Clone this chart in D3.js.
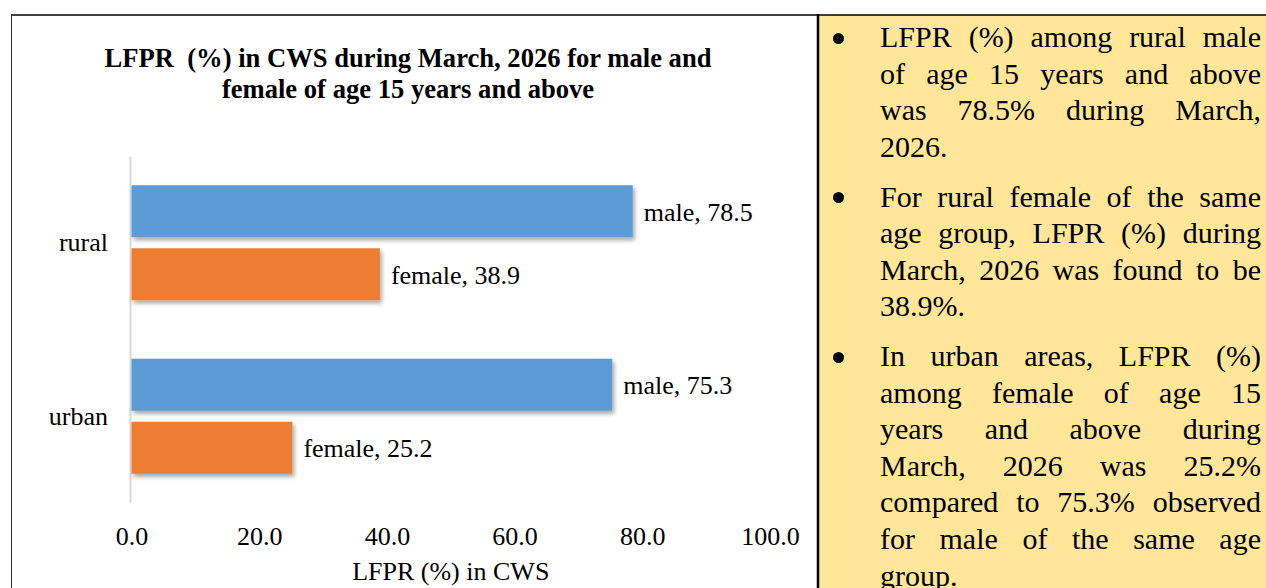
<!DOCTYPE html>
<html>
<head>
<meta charset="utf-8">
<script src="https://cdn.jsdelivr.net/npm/d3@7"></script>
<style>
  body { margin: 0; background: #fff; }
  #wrap { position: relative; width: 1266px; height: 588px; overflow: hidden; }
  svg { position: absolute; left: 0; top: 0; }
  #notes { position: absolute; left: 880px; top: 19.3px; width: 381px;
           font-family: "Times New Roman", "Liberation Serif", serif; font-size: 30px; color: #000; }
  .para { position: relative; margin-bottom: 13px; }
  .line { height: 36.6px; line-height: 36.6px; text-align: justify; text-align-last: justify; }
  .line.last { text-align-last: left; }
  .dot { position: absolute; left: -47.2px; top: 13.5px; width: 11px; height: 11px;
         border-radius: 50%; background: #000; }
</style>
</head>
<body>
<div id="wrap"></div>
<script>
// data
var areas = ["rural", "urban"];
var sexes = ["male", "female"];
var maleValues = [78.5, 75.3];
var femaleValues = [38.9, 25.2];
var xTicks = [0, 20, 40, 60, 80, 100];
var titleLines = ["LFPR\u00a0 (%) in CWS during March, 2026 for male and",
                  "female of age 15 years and above"];
var xTitle = "LFPR (%) in CWS";
var notes = [
  ["LFPR (%) among rural male", "of age 15 years and above", "was 78.5% during March,", "2026."],
  ["For rural female of the same", "age group, LFPR (%) during", "March, 2026 was found to be", "38.9%."],
  ["In urban areas, LFPR (%)", "among female of age 15", "years and above during",
   "March, 2026 was 25.2%", "compared to 75.3% observed", "for male of the same age", "group."]
];

var colors = {male: "#5B9BD5", female: "#ED7D31"};
var font = "'Times New Roman', 'Liberation Serif', serif";

var rows = [];
areas.forEach(function(a, i) {
    rows.push({area: a, sex: "male", value: maleValues[i]});
    rows.push({area: a, sex: "female", value: femaleValues[i]});
});

var svg = d3.select("#wrap").append("svg")
    .attr("width", 1266)
    .attr("height", 588)
    .style("font-family", font);

var defs = svg.append("defs");
defs.append("filter").attr("id", "shadow")
    .attr("x", "-5%").attr("y", "-20%").attr("width", "115%").attr("height", "160%")
    .append("feDropShadow")
    .attr("dx", 2).attr("dy", 3).attr("stdDeviation", 2)
    .attr("flood-color", "#000").attr("flood-opacity", 0.35);

// yellow notes panel + frame
svg.append("rect")
    .attr("x", 818).attr("y", 15).attr("width", 460).attr("height", 580)
    .attr("fill", "#FFE699");
svg.append("line")
    .attr("x1", 11).attr("x2", 1266).attr("y1", 15).attr("y2", 15)
    .attr("stroke", "#000").attr("stroke-width", 1.5);
svg.append("line")
    .attr("x1", 11.5).attr("x2", 11.5).attr("y1", 14).attr("y2", 588)
    .attr("stroke", "#333").attr("stroke-width", 1);
svg.append("line")
    .attr("x1", 818).attr("x2", 818).attr("y1", 14).attr("y2", 588)
    .attr("stroke", "#000").attr("stroke-width", 2.5);

// title
svg.append("text")
    .attr("x", 408).attr("y", 66.5)
    .attr("text-anchor", "middle")
    .style("font-size", "26.6px").style("font-weight", "bold")
    .selectAll("tspan").data(titleLines).enter().append("tspan")
    .attr("x", 408)
    .attr("dy", function(d, i) { return i ? 31.8 : 0; })
    .text(function(d) { return d; });

// scales
var x = d3.scaleLinear().domain([0, 100]).range([131.5, 770]);
var y = d3.scaleBand().domain(areas).range([156, 503]);
var ySub = d3.scaleBand().domain(sexes).range([0, y.bandwidth()])
    .paddingInner(0.1746).paddingOuter(0.464);

// x axis (labels only)
var xaxis = d3.axisBottom(x)
    .tickValues(xTicks)
    .tickFormat(d3.format(".1f"))
    .tickSize(0).tickPadding(0);

var gx = svg.append("g")
    .attr("transform", "translate(0,527)")
    .call(xaxis);
gx.select(".domain").remove();
gx.selectAll("text")
    .attr("y", 0).attr("dy", "0.7em")
    .style("font-family", font).style("font-size", "26px").attr("fill", "#000");

svg.append("text")
    .attr("x", (x(0) + x(100)) / 2).attr("y", 580)
    .attr("text-anchor", "middle")
    .style("font-size", "26px")
    .text(xTitle);

// y axis
var yaxis = d3.axisLeft(y).tickSize(0).tickPadding(22);
var gy = svg.append("g")
    .attr("transform", "translate(130,0)")
    .call(yaxis);
gy.select(".domain").attr("stroke", "#D9D9D9").attr("stroke-width", 2);
gy.selectAll("text")
    .style("font-family", font).style("font-size", "26px").attr("fill", "#000");

// bars
svg.append("g").selectAll("rect")
    .data(rows).enter().append("rect")
    .attr("x", x(0))
    .attr("y", function(d) { return y(d.area) + ySub(d.sex); })
    .attr("width", function(d) { return x(d.value) - x(0); })
    .attr("height", ySub.bandwidth())
    .attr("fill", function(d) { return colors[d.sex]; })
    .attr("filter", "url(#shadow)");

// data labels
svg.append("g").selectAll("text")
    .data(rows).enter().append("text")
    .attr("x", function(d) { return x(d.value) + 11; })
    .attr("y", function(d) { return y(d.area) + ySub(d.sex) + ySub.bandwidth() / 2; })
    .attr("dy", "0.36em")
    .style("font-size", "26px")
    .text(function(d) { return d.sex + ", " + d.value.toFixed(1); });

// notes panel text
var paras = d3.select("#wrap").append("div").attr("id", "notes")
    .selectAll(".para").data(notes).enter().append("div").attr("class", "para");
paras.append("div").attr("class", "dot");
paras.selectAll(".line").data(function(d) { return d; }).enter().append("div")
    .attr("class", function(d, i, n) { return i === n.length - 1 ? "line last" : "line"; })
    .text(function(d) { return d; });
</script>
</body>
</html>
